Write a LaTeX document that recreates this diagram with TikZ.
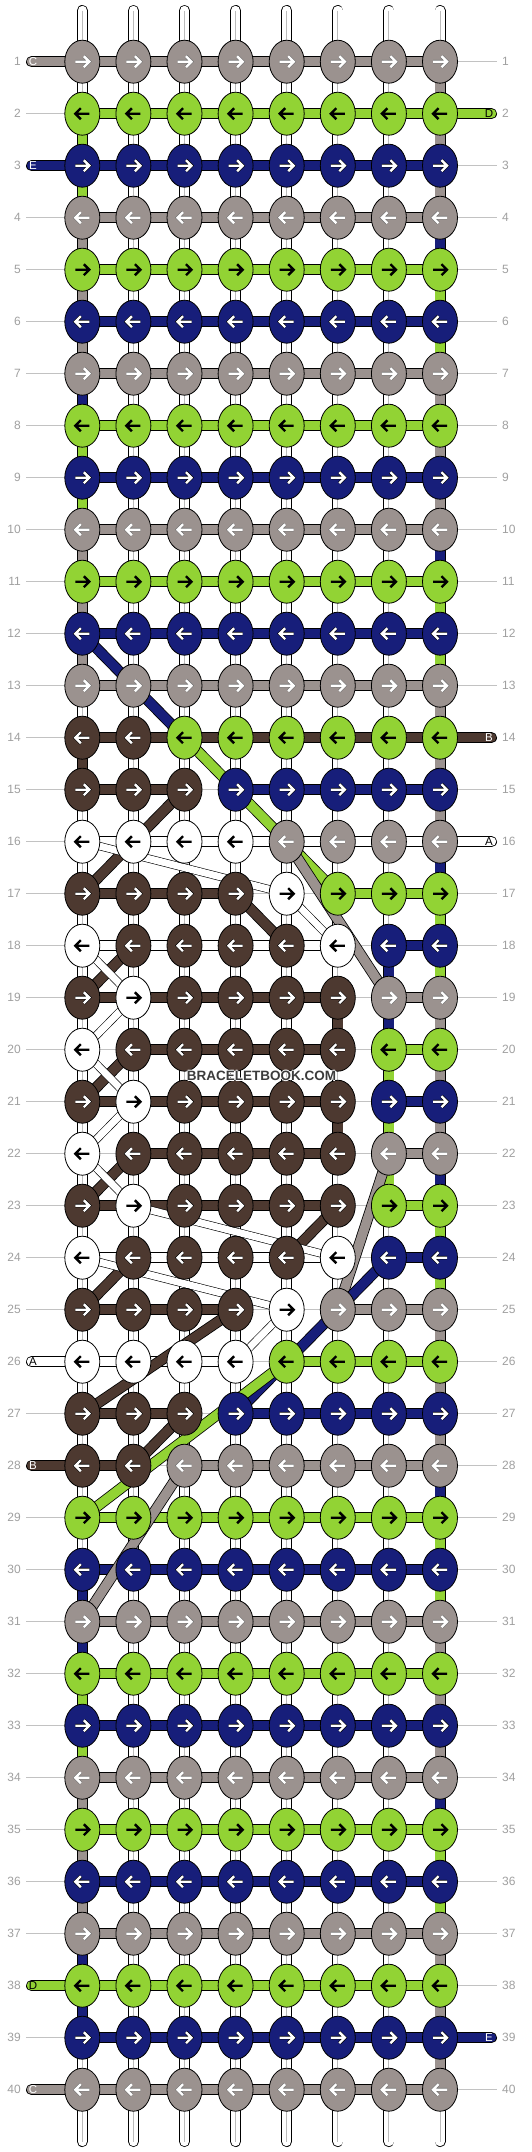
\documentclass[tikz,border=0pt]{standalone}
\usepackage{fontspec}
\setmainfont{Liberation Sans}
\usetikzlibrary{shapes.geometric}
\definecolor{cG}{HTML}{9B928F}
\definecolor{cL}{HTML}{92D334}
\definecolor{cN}{HTML}{171E7A}
\definecolor{cB}{HTML}{4D3930}
\definecolor{cW}{HTML}{FFFFFF}
\colorlet{cGa}{white}\colorlet{cNa}{white}\colorlet{cBa}{white}
\colorlet{cLa}{black}\colorlet{cWa}{black}
\colorlet{cGo}{black!55}\colorlet{cNo}{black}\colorlet{cBo}{black}
\colorlet{cLo}{cL}\colorlet{cWo}{white}
\definecolor{guide}{HTML}{C2C2C2}
\definecolor{lbl}{HTML}{A0A0A0}
\definecolor{cline}{HTML}{BBBBBB}
\definecolor{wmark}{HTML}{3C3C3C}
\tikzset{
 band/.style={draw=black, line width=0.8pt, double=#1, double distance=9.4pt},
 wband/.style={draw=black, line width=0.6pt, double=white, double distance=7pt},
 knot/.style={ellipse, draw=black, line width=0.8pt, minimum width=35pt, minimum height=43pt, inner sep=0pt, outer sep=0pt, fill=#1},
 guideline/.style={draw=guide, line width=0.8pt},
 midline/.style={draw=cline, line width=0.9pt},
 rowlbl/.style={text=lbl, font=\fontsize{12}{12}\selectfont, inner sep=0pt},
 taillbl/.style={font=\fontsize{11.5}{11.5}\selectfont, inner sep=0pt},
 arr/.style={line width=2.4pt, line cap=butt, line join=miter},
 wmtext/.style={font=\bfseries\fontsize{13.5}{13.5}\selectfont, inner sep=0pt},
}
\newcommand\rowy[1]{61.7+52*(#1-1)}
\newcommand\vs[3]{\pgfmathtruncatemacro\rn{#2+1}%
  \draw[band=c#3] (p-#1-#2) -- (p-#1-\rn);%
  \if W#3\relax\draw[midline] (p-#1-#2) -- (p-#1-\rn);\fi}
\newcommand\hs[3]{\if -#3\relax\else\pgfmathtruncatemacro\cn{#1+1}%
  \draw[band=c#3] (p-#1-#2) -- (p-\cn-#2);\fi}
\newcommand\kn[3]{%
  \node[knot=c#3] (k-#1-#2) at (p-#1-#2) {};%
  \ifodd#2\relax\def\dirx{1}\else\def\dirx{-1}\fi
  \begin{scope}[shift={(p-#1-#2)}, xscale=\dirx]%
    \draw[arr, draw=c#3o, line width=3.5pt] (-7,0) -- (6,0) (1.5,-5.5) -- (7,0) -- (1.5,5.5);%
    \draw[arr, draw=c#3a] (-7,0) -- (6,0) (1.5,-5.5) -- (7,0) -- (1.5,5.5);%
  \end{scope}}
\newcommand\ltail[4]{\coordinate (tl-#1) at (31.5,{\rowy{#1}});%
 \draw[band=c#2, line cap=round] (tl-#1) -- (p-1-#1);%
 \node[taillbl, text=#4] (tll-#1) at (33,{\rowy{#1}}) {#3};}
\newcommand\rtail[4]{\coordinate (tr-#1) at (491.5,{\rowy{#1}});%
 \draw[band=c#2, line cap=round] (p-8-#1) -- (tr-#1);%
 \node[taillbl, text=#4] (trl-#1) at (489,{\rowy{#1}}) {#3};}
\begin{document}
\begin{tikzpicture}[x=1pt,y=-1pt]
\useasboundingbox (0,0) rectangle (532,2152);
\fill[white] (0,0) rectangle (532,2152);
% coordinates
\foreach \r in {1,...,40}{
  \foreach \c in {1,...,8}{\coordinate (p-\c-\r) at ({82.3+51.1*(\c-1)},{\rowy{\r}});}
  \coordinate (gl-\r) at (26,{\rowy{\r}});
  \coordinate (gr-\r) at (497,{\rowy{\r}});
}
% guide lines and row numbers
\foreach \r in {1,...,40}{
  \draw[guideline] (gl-\r) -- (gr-\r);
  \node[rowlbl, anchor=east] (nl-\r) at ([xshift=-5pt]gl-\r) {\r};
  \node[rowlbl, anchor=west] (nr-\r) at ([xshift=5pt]gr-\r) {\r};
}
% top and bottom strings
\foreach \c in {1,...,8}{
  \coordinate (top-\c) at ({82.3+51.1*(\c-1)},10.5);
  \coordinate (bot-\c) at ({82.3+51.1*(\c-1)},2141.5);
  \draw[band=cW, line cap=round] (top-\c) -- (p-\c-1);
  \draw[midline] (top-\c) -- (p-\c-1);
  \draw[band=cW, line cap=round] (p-\c-40) -- (bot-\c);
  \draw[midline] (p-\c-40) -- (bot-\c);
}
% vertical segments
\foreach \c in {2,...,7}{\foreach \r in {1,...,39}{\vs{\c}{\r}{W}}}
\foreach \x [count=\r] in {W,L,L,G,G,G,N,L,L,G,G,G,W,B,W,W,W,W,W,W,W,W,W,W,W,W,W,W,W,N,N,L,L,G,G,G,N,N,W}{\vs{1}{\r}{\x}}
\foreach \x [count=\r] in {G,G,G,N,L,L,G,G,G,N,L,L,G,G,G,N,L,L,G,G,G,N,L,L,G,G,G,N,L,L,G,G,G,N,L,L,G,G,G}{\vs{8}{\r}{\x}}
\foreach \c/\r/\x in {7/18/N,7/19/N,7/20/L,7/21/L,7/22/L,6/19/B,6/21/B}{\vs{\c}{\r}{\x}}
% horizontal segments
\foreach \r in {1,...,13,29,30,...,40}{
  \pgfmathtruncatemacro\m{mod(\r,3)}
  \edef\x{\ifcase\m N\or G\or L\fi}
  \foreach \c in {1,...,7}{\hs{\c}{\r}{\x}}}
\foreach \r/\hl in {14/{B,B,B,B,B,B,B},15/{B,B,-,N,N,N,N},16/{W,W,W,W,W,W,W},17/{B,B,B,-,-,L,L},
  18/{W,W,W,W,W,-,N},19/{B,B,B,B,B,-,G},20/{-,B,B,B,B,-,L},21/{B,B,B,B,B,-,N},22/{-,B,B,B,B,-,G},
  23/{B,B,B,B,B,-,L},24/{W,W,W,W,W,-,N},25/{B,B,B,-,-,G,G},26/{W,W,W,-,L,L,L},27/{B,B,-,N,N,N,N},
  28/{B,-,G,G,G,G,G}}{
  \foreach \x [count=\c] in \hl {\hs{\c}{\r}{\x}}}
% tails
\ltail{1}{G}{C}{white}
\rtail{2}{L}{D}{black}
\ltail{3}{N}{E}{white}
\rtail{14}{B}{B}{white}
\rtail{16}{W}{A}{black}
\ltail{26}{W}{A}{black}
\ltail{28}{B}{B}{white}
\ltail{38}{L}{D}{black}
\rtail{39}{N}{E}{white}
\ltail{40}{G}{C}{white}
% diagonal strings
\foreach \x/\a/\b in {N/1-12/3-14,L/3-14/6-17,B/3-15/1-17,G/5-16/7-19,B/4-17/5-18,B/2-18/1-19,
  B/2-20/1-21,B/2-22/1-23,B/6-23/5-24,B/2-24/1-25,G/7-22/6-25,N/7-24/4-27,L/5-26/1-29,
  B/4-25/1-27,B/3-27/2-28,G/3-28/1-31}{\draw[band=c\x] (p-\a) -- (p-\b);}
\foreach \a/\b in {1-16/5-17,5-17/6-18,1-18/2-19,2-19/1-20,1-20/2-21,2-21/1-22,1-22/2-23,
  2-23/6-24,1-24/5-25,5-25/4-26}{\draw[wband] (p-\a) -- (p-\b);}
% knots
\foreach \r in {1,...,13,29,30,...,40}{
  \pgfmathtruncatemacro\m{mod(\r,3)}
  \edef\x{\ifcase\m N\or G\or L\fi}
  \foreach \c in {1,...,8}{\kn{\c}{\r}{\x}}}
\foreach \r/\kl in {14/{B,B,L,L,L,L,L,L},15/{B,B,B,N,N,N,N,N},16/{W,W,W,W,G,G,G,G},
  17/{B,B,B,B,W,L,L,L},18/{W,B,B,B,B,W,N,N},19/{B,W,B,B,B,B,G,G},20/{W,B,B,B,B,B,L,L},
  21/{B,W,B,B,B,B,N,N},22/{W,B,B,B,B,B,G,G},23/{B,W,B,B,B,B,L,L},24/{W,B,B,B,B,W,N,N},
  25/{B,B,B,B,W,G,G,G},26/{W,W,W,W,L,L,L,L},27/{B,B,B,N,N,N,N,N},28/{B,B,G,G,G,G,G,G}}{
  \foreach \x [count=\c] in \kl {\kn{\c}{\r}{\x}}}
% watermark
\foreach \dx/\dy [count=\i] in {-0.9/0,0.9/0,0/-0.9,0/0.9}{
  \node[wmtext, text=white] (wmh-\i) at (261.5+\dx,1076+\dy) {BRACELETBOOK.COM};}
\node[wmtext, text=wmark] (wm) at (261.5,1076) {BRACELETBOOK.COM};
\end{tikzpicture}
\end{document}
